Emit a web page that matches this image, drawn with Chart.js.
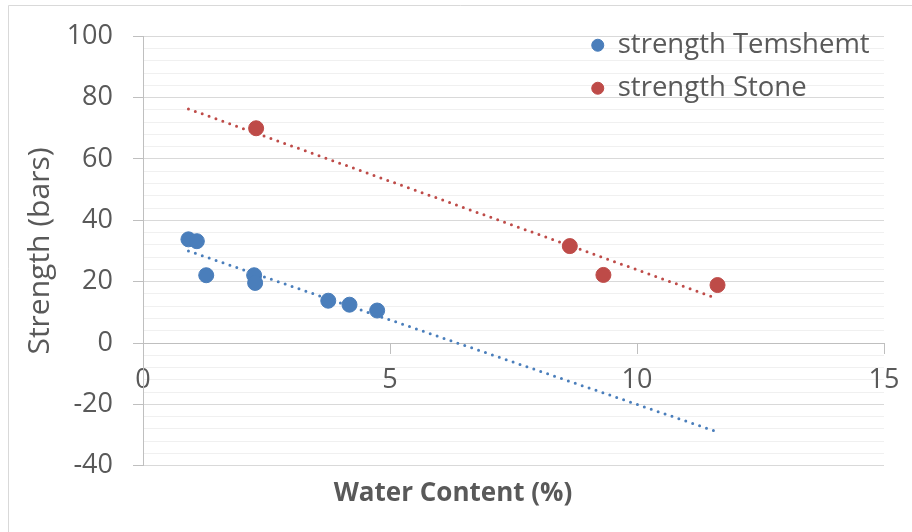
<!DOCTYPE html>
<html>
<head>
<meta charset="utf-8">
<script src="https://cdn.jsdelivr.net/npm/chart.js@4"></script>
<style>
  html, body { margin: 0; padding: 0; background: #fff; }
  #wrap { width: 912px; height: 532px; }
</style>
</head>
<body>
<div id="wrap"><canvas id="strengthChart" width="912" height="532"></canvas></div>
<script>
// values
const temX = [0.92, 1.09, 1.28, 2.25, 2.27, 3.75, 4.18, 4.74]
const temY = [33.8, 33.2, 22.1, 22.1, 19.6, 13.8, 12.5, 10.6]
const stoneX = [2.29, 8.64, 9.32, 11.63]
const stoneY = [70.0, 31.6, 22.2, 18.9]

// trendline ends (Excel linear trendlines)
const temTrendX = [0.92, 11.6]
const temTrendY = [30.0, -28.8]
const stoneTrendX = [0.92, 11.54]
const stoneTrendY = [76.3, 15.0]

const xTicks = [0, 5, 10, 15]
const yMin = -40, yMax = 100

const labels = ['strength Temshemt', 'strength Stone']

const blue = '#4a7ebb'
const red = '#be4b48'
const textGray = '#595959'

const toPoints = (xs, ys) => xs.map((x, i) => ({ x: x, y: ys[i] }))

// white background + the light frame on top/left
const frame = {
  id: 'frame',
  beforeDraw(chart) {
    const c = chart.ctx
    c.save()
    c.fillStyle = '#fff'
    c.fillRect(0, 0, chart.width, chart.height)
    c.strokeStyle = '#d9d9d9'
    c.lineWidth = 1
    c.beginPath()
    c.moveTo(8.5, chart.height)
    c.lineTo(8.5, 5.5)
    c.lineTo(chart.width, 5.5)
    c.stroke()
    c.restore()
  }
}

// put the legend box in the upper right of the plot
const legendSpot = {
  id: 'legendSpot',
  afterLayout(chart) {
    chart.legend.left = 576
    chart.legend.top = 16
  }
}

const ctx = document.getElementById('strengthChart')

const chart = new Chart(ctx, {
  type: 'scatter',
  data: {
    datasets: [
      {
        label: labels[0],
        data: toPoints(temX, temY),
        backgroundColor: blue,
        borderColor: blue,
        pointRadius: 7.5,
        pointStyle: 'circle'
      },
      {
        label: labels[1],
        data: toPoints(stoneX, stoneY),
        backgroundColor: red,
        borderColor: red,
        pointRadius: 7.5,
        pointStyle: 'circle'
      },
      {
        type: 'line',
        label: 'trend1',
        data: toPoints(temTrendX, temTrendY),
        borderColor: blue,
        borderWidth: 3,
        borderDash: [0, 7.3],
        borderCapStyle: 'round',
        pointRadius: 0,
        fill: false
      },
      {
        type: 'line',
        label: 'trend2',
        data: toPoints(stoneTrendX, stoneTrendY),
        borderColor: red,
        borderWidth: 3,
        borderDash: [0, 7.3],
        borderCapStyle: 'round',
        pointRadius: 0,
        fill: false
      }
    ]
  },
  options: {
    responsive: false,
    animation: false,
    events: [],
    layout: { padding: { left: 22, top: 35, right: 28, bottom: 23 } },
    scales: {
      x: {
        type: 'linear',
        min: 0,
        max: 15,
        position: { y: 0 },
        afterBuildTicks: s => { s.ticks = xTicks.map(v => ({ value: v })) },
        ticks: { color: textGray, font: { family: 'Open Sans', size: 27 }, padding: 11 },
        grid: { drawOnChartArea: false, tickLength: 10, tickColor: '#bfbfbf' },
        border: { color: '#bfbfbf', width: 1 }
      },
      y: {
        min: yMin,
        max: yMax,
        afterFit: s => { s.width = 121 },
        ticks: {
          stepSize: 4,
          autoSkip: false,
          color: textGray,
          font: { family: 'Open Sans', size: 27 },
          padding: 20,
          callback: v => (v % 20 === 0 ? v : '')
        },
        grid: {
          color: c => (c.tick && c.tick.value % 20 === 0 ? '#d9d9d9' : '#f0f0f0'),
          tickColor: c => (c.tick && c.tick.value % 20 === 0 ? '#bfbfbf' : 'rgba(0,0,0,0)'),
          tickLength: 10
        },
        border: { color: '#bfbfbf' },
        title: {
          display: true,
          text: 'Strength (bars)',
          color: textGray,
          font: { family: 'Open Sans', size: 30 },
          padding: { top: 0, bottom: 0 }
        }
      }
    },
    plugins: {
      tooltip: { enabled: false },
      legend: {
        position: 'chartArea',
        align: 'start',
        labels: {
          usePointStyle: true,
          boxWidth: 12.5,
          boxHeight: 8.5,
          padding: 15.5,
          color: textGray,
          font: { family: 'Open Sans', size: 27.5 },
          filter: item => item.datasetIndex < 2
        }
      },
      title: {
        display: true,
        position: 'bottom',
        text: 'Water Content (%)',
        color: textGray,
        font: { family: 'Open Sans', size: 26, weight: 'bold' },
        padding: { top: 12, bottom: 0 }
      }
    }
  },
  plugins: [frame, legendSpot]
})
</script>
</body>
</html>
